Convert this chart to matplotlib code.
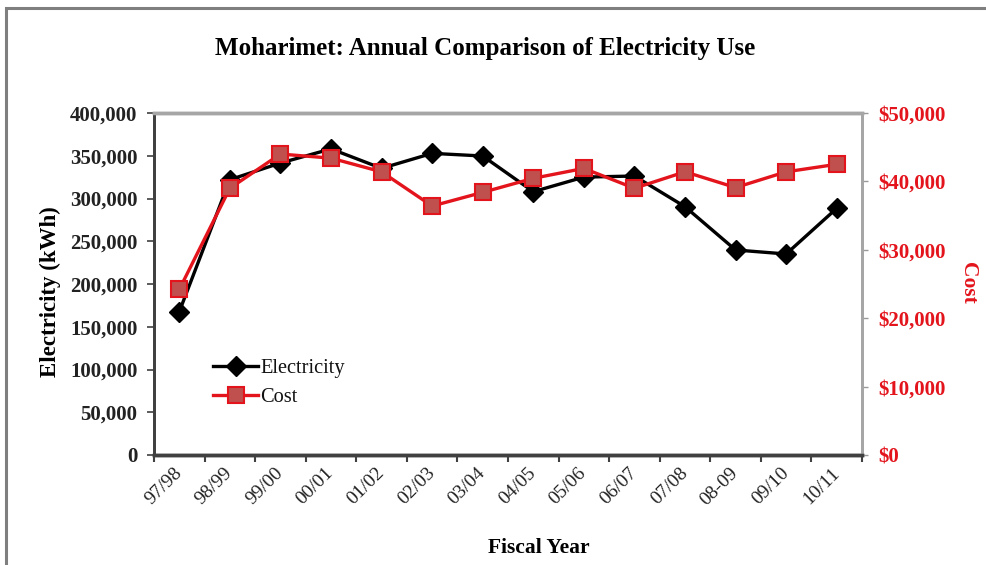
import matplotlib
matplotlib.use("Agg")
import matplotlib.pyplot as plt
from matplotlib.patches import Rectangle
from matplotlib.ticker import FuncFormatter, MultipleLocator

years = ["97/98", "98/99", "99/00", "00/01", "01/02", "02/03", "03/04",
         "04/05", "05/06", "06/07", "07/08", "08-09", "09/10", "10/11"]
electricity = [167600, 322000, 341500, 358000, 335300, 352800, 349700,
               308000, 325000, 326300, 290400, 239800, 235100, 288500]
cost = [24200, 39000, 44000, 43400, 41400, 36400, 38400,
        40450, 41900, 39000, 41400, 39100, 41400, 42500]

plt.rcParams['font.family'] = ['Liberation Serif', 'DejaVu Serif']

W, H = 987, 565
fig = plt.figure(figsize=(W / 100, H / 100), dpi=100)
fig.patch.set_facecolor('white')

# outer frame
fig.patches.append(Rectangle((6 / W, -0.05), 1.1, 1 - 8 / H + 0.05,
                             transform=fig.transFigure, fill=False,
                             edgecolor='#7f7f7f', linewidth=2.2))

ax = fig.add_axes([154 / W, 1 - 455 / H, (862 - 154) / W, (455 - 113) / H])
ax2 = ax.twinx()

red = '#e3141c'
x = list(range(len(years)))
ax.plot(x, electricity, color='black', linewidth=2.4, marker='D',
        markersize=10, markerfacecolor='black', markeredgecolor='black',
        label='Electricity', zorder=3)
ax2.plot(x, cost, color=red, linewidth=2.4, marker='s', markersize=11,
         markerfacecolor='#c0504d', markeredgecolor=red, markeredgewidth=1.5,
         label='Cost', zorder=3)

ax.set_xlim(-0.5, len(years) - 0.5)
ax.set_ylim(0, 400000)
ax2.set_ylim(0, 50000)
ax.yaxis.set_major_locator(MultipleLocator(50000))
ax2.yaxis.set_major_locator(MultipleLocator(10000))
ax.yaxis.set_major_formatter(FuncFormatter(lambda v, p: f"{int(v):,}"))
ax2.yaxis.set_major_formatter(FuncFormatter(lambda v, p: f"${int(v):,}"))

# x ticks at category boundaries, labels at centers
ax.set_xticks([i - 0.5 for i in range(len(years) + 1)])
ax.set_xticklabels([])
ax.set_xticks(x, minor=True)
ax.set_xticklabels(years, minor=True, rotation=45, ha='right', va='center',
                   rotation_mode='anchor', fontsize=14, color='#222222')
ax.tick_params(axis='x', which='minor', length=0, pad=11)
ax.tick_params(axis='x', which='major', length=5, width=1.5, color='#404040',
               direction='out')

ax.tick_params(axis='y', length=5, width=1.2, color='#404040', labelsize=15,
               pad=7)
for lbl in ax.get_yticklabels():
    lbl.set_fontweight('bold')
    lbl.set_color('#222222')
ax2.tick_params(axis='y', length=4, width=1.0, color='#999999',
                labelsize=15, labelcolor=red, pad=8)
for lbl in ax2.get_yticklabels():
    lbl.set_fontweight('bold')

for a in (ax, ax2):
    a.spines['top'].set_color('#a6a6a6')
    a.spines['top'].set_linewidth(2.5)
    a.spines['right'].set_color('#a6a6a6')
    a.spines['right'].set_linewidth(2.0)
    a.spines['left'].set_color('#404040')
    a.spines['left'].set_linewidth(2.0)
    a.spines['bottom'].set_color('#404040')
    a.spines['bottom'].set_linewidth(2.5)

ax.set_zorder(1)
ax2.set_zorder(2)
ax2.patch.set_visible(False)

fig.text(485 / W, 1 - 48 / H, "Moharimet: Annual Comparison of Electricity Use",
         ha='center', va='center', fontsize=18, fontweight='bold')
fig.text(50 / W, 1 - 292 / H, "Electricity (kWh)", rotation=90, ha='center',
         va='center', fontsize=16.5, fontweight='bold')
fig.text(968 / W, 1 - 283 / H, "Cost", rotation=270, ha='center', va='center',
         fontsize=15.5, fontweight='bold', color=red)
fig.text(539 / W, 1 - 548 / H, "Fiscal Year", ha='center', va='center',
         fontsize=15.5, fontweight='bold')

h1, l1 = ax.get_legend_handles_labels()
h2, l2 = ax2.get_legend_handles_labels()
leg = ax2.legend(h1 + h2, l1 + l2, loc='upper left',
                 bbox_to_anchor=((205 - 154) / (862 - 154), (455 - 351) / (455 - 113)),
                 frameon=False, fontsize=14.7, handlelength=2.2,
                 handletextpad=0.1, labelspacing=0.45, borderaxespad=0)
for t in leg.get_texts():
    t.set_color('#111111')

fig.savefig("out.png", dpi=100, facecolor='white')
